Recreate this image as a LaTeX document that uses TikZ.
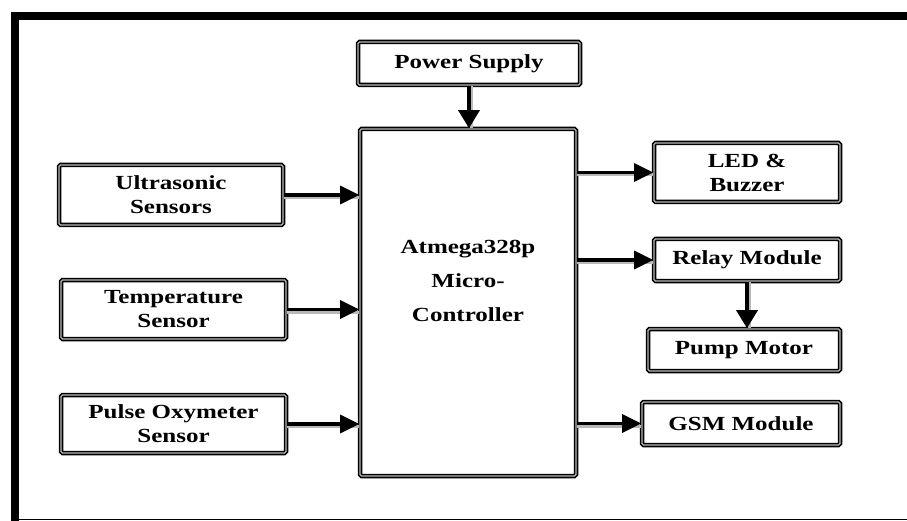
\documentclass[tikz,border=0pt]{standalone}
\usepackage{fontspec}
\setmainfont{Liberation Serif}[FakeStretch=1.25]
\usepackage{tikz}
\usetikzlibrary{positioning, arrows.meta, calc}

\begin{document}
\begin{tikzpicture}[x=1pt, y=-1pt,
  block/.style={draw=black, line width=1.6pt, double=gray!55, double distance=1.3pt,
    rounded corners=1.5pt, fill=white, inner sep=0pt, align=center,
    font=\fontsize{20}{24}\selectfont\bfseries},
  flow/.style={line width=3.4pt, -{Triangle[length=19pt, width=18pt]},
    preaction={draw=gray!55, line width=3pt, transform canvas={yshift=-2.5pt}, -{}}},
  vflow/.style={line width=3.4pt, -{Triangle[length=18pt, width=21pt]},
    preaction={draw=gray!55, line width=3pt, transform canvas={xshift=2.5pt}, -{}}}]
\useasboundingbox (0,0) rectangle (907,521);

% frame
\draw[line width=8pt] (907,16) -- (14.5,16) -- (14.5,521);
\draw[line width=1.5pt] (11,519.5) -- (907,519.5);

% controller and its inputs
\node[block, minimum width=216pt, minimum height=347pt,
  font=\fontsize{20}{34}\selectfont\bfseries] (mc) at (468,302.5)
  {Atmega328p\\Micro-\\Controller\rule[-44pt]{0pt}{0pt}};
\node[block, minimum width=222pt, minimum height=43pt] (power) at (469,63.5) {Power Supply};
\node[block, minimum width=224pt, minimum height=60pt] (ultra) at (171,195) {Ultrasonic\\Sensors};
\node[block, minimum width=225pt, minimum height=59pt] (temp) at (173.5,309.5) {Temperature\\Sensor};
\node[block, minimum width=225pt, minimum height=58pt] (pulse) at (173.5,424) {Pulse Oxymeter\\Sensor};

% outputs
\node[block, minimum width=186pt, minimum height=59pt] (led) at (747,172.5) {LED \&\\Buzzer};
\node[block, minimum width=186pt, minimum height=42pt] (relay) at (747,260) {Relay Module};
\node[block, minimum width=192pt, minimum height=42pt] (pump) at (744,350) {Pump Motor};
\node[block, minimum width=198pt, minimum height=43pt] (gsm) at (741,423.5) {GSM Module};

\draw[vflow] (power.south) -- (power.south |- mc.north);
\draw[flow] (ultra.east) -- (ultra.east -| mc.west);
\draw[flow] (temp.east) -- (temp.east -| mc.west);
\draw[flow] (pulse.east) -- (pulse.east -| mc.west);
\draw[flow] (mc.east |- led.west) -- (led.west);
\draw[flow] (mc.east |- relay.west) -- (relay.west);
\draw[flow] (mc.east |- gsm.west) -- (gsm.west);
\draw[vflow] (relay.south) -- (relay.south |- pump.north);
\end{tikzpicture}
\end{document}
